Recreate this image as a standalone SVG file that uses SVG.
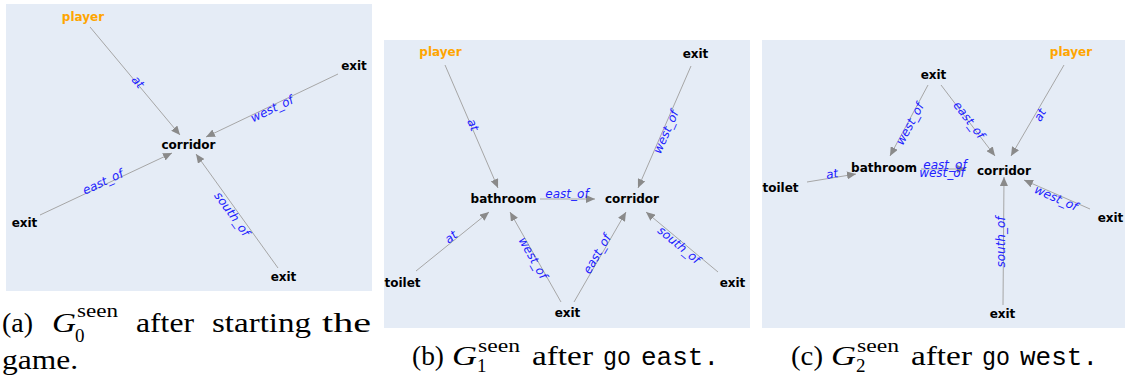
<svg xmlns="http://www.w3.org/2000/svg" width="1125" height="381" viewBox="0 0 1125 381">
<style>
.bg{fill:#E5ECF6}
.n{font-family:"DejaVu Sans",sans-serif;font-weight:bold;font-size:12px;text-anchor:middle;fill:#000}
.p{fill:#FFA500}
.e{stroke:#a6a6a6;stroke-width:1;fill:none;marker-end:url(#ah)}
.l{font-family:"DejaVu Sans",sans-serif;font-style:italic;font-size:12px;fill:#2020ff;text-anchor:middle;dominant-baseline:central}
.c{font-family:"Liberation Serif","DejaVu Serif",serif;font-size:28px;fill:#000}
.g{font-family:"Liberation Serif","DejaVu Serif",serif;font-style:italic;font-size:28px;fill:#000}
.s{font-family:"Liberation Serif","DejaVu Serif",serif;font-size:19px;fill:#000}
.m{font-family:"Liberation Mono",monospace;font-size:25px;fill:#000}
</style>
<defs>
<marker id="ah" markerUnits="userSpaceOnUse" markerWidth="9" markerHeight="8" refX="9" refY="4" orient="auto">
<path d="M0,0 L9,4 L0,8 z" fill="#8a8a8a"/>
</marker>
</defs>
<rect class="bg" x="6" y="4" width="366" height="287"/>
<rect class="bg" x="384" y="40" width="366" height="288"/>
<rect class="bg" x="762" y="40" width="363" height="288"/>
<g id="connectors">
<line class="e" x1="90" y1="27" x2="180" y2="135"/>
<line class="e" x1="338" y1="74" x2="206" y2="137"/>
<line class="e" x1="40" y1="215" x2="172" y2="153"/>
<line class="e" x1="278" y1="268" x2="196" y2="154"/>
<text class="l" x="138" y="82" transform="rotate(50.2 138 82)">at</text>
<text class="l" x="272" y="109" transform="rotate(-25.5 272 109)">west_of</text>
<text class="l" x="103" y="182" transform="rotate(-25.2 103 182)">east_of</text>
<text class="l" x="232" y="214" transform="rotate(54.3 232 214)">south_of</text>
<line class="e" x1="445" y1="65" x2="498" y2="188"/>
<line class="e" x1="691" y1="66" x2="638" y2="188"/>
<line class="e" x1="540" y1="199" x2="595" y2="199"/>
<line class="e" x1="416" y1="271" x2="489" y2="212"/>
<line class="e" x1="561" y1="302" x2="510" y2="212"/>
<line class="e" x1="574" y1="302" x2="626" y2="212"/>
<line class="e" x1="718" y1="272" x2="646" y2="212"/>
<text class="l" x="473" y="125" transform="rotate(66.7 473 125)">at</text>
<text class="l" x="666" y="132" transform="rotate(-66.5 666 132)">west_of</text>
<text class="l" x="567" y="194">east_of</text>
<text class="l" x="451" y="237" transform="rotate(-38.9 451 237)">at</text>
<text class="l" x="533" y="258" transform="rotate(60.5 533 258)">west_of</text>
<text class="l" x="597" y="254" transform="rotate(-60 597 254)">east_of</text>
<text class="l" x="679" y="245" transform="rotate(39.8 679 245)">south_of</text>
<line class="e" x1="928" y1="85" x2="890" y2="156"/>
<line class="e" x1="941" y1="85" x2="995" y2="156"/>
<line class="e" x1="1064" y1="65" x2="1011" y2="156"/>
<line class="e" x1="807" y1="182" x2="856" y2="174"/>
<line class="e" x1="921" y1="169" x2="966" y2="169"/>
<line class="e" x1="1003" y1="305" x2="1004" y2="177"/>
<line class="e" x1="1090" y1="209" x2="1024" y2="180"/>
<text class="l" x="910" y="124" transform="rotate(-61.8 910 124)">west_of</text>
<text class="l" x="969" y="120" transform="rotate(52.7 969 120)">east_of</text>
<text class="l" x="1040" y="115" transform="rotate(-59.8 1040 115)">at</text>
<text class="l" x="832" y="174" transform="rotate(-9.3 832 174)">at</text>
<text class="l" x="945" y="165">east_of</text>
<text class="l" x="942" y="173">west_of</text>
<text class="l" x="1001" y="242" transform="rotate(-90 1001 242)">south_of</text>
<text class="l" x="1056" y="198" transform="rotate(23.7 1056 198)">west_of</text>
</g>
<g id="a-player"><text class="n p" x="83" y="21">player</text></g>
<g id="a-exit-ne"><text class="n" x="354" y="69.5">exit</text></g>
<g id="a-corridor"><text class="n" x="188.5" y="148.5">corridor</text></g>
<g id="a-exit-w"><text class="n" x="24.5" y="226.5">exit</text></g>
<g id="a-exit-s"><text class="n" x="283.5" y="280.5">exit</text></g>
<g id="b-player"><text class="n p" x="440.5" y="56">player</text></g>
<g id="b-exit-n"><text class="n" x="695.5" y="57.5">exit</text></g>
<g id="b-bathroom"><text class="n" x="503.5" y="202.5">bathroom</text></g>
<g id="b-corridor"><text class="n" x="632" y="202.5">corridor</text></g>
<g id="b-toilet"><text class="n" x="402.5" y="286.5">toilet</text></g>
<g id="b-exit-e"><text class="n" x="732.5" y="286.5">exit</text></g>
<g id="b-exit-s"><text class="n" x="567.5" y="316.5">exit</text></g>
<g id="c-exit-n"><text class="n" x="933.5" y="78.5">exit</text></g>
<g id="c-player"><text class="n p" x="1071" y="56">player</text></g>
<g id="c-bathroom"><text class="n" x="884" y="171.5">bathroom</text></g>
<g id="c-corridor"><text class="n" x="1004" y="174.5">corridor</text></g>
<g id="c-toilet"><text class="n" x="780.5" y="191.5">toilet</text></g>
<g id="c-exit-e"><text class="n" x="1110.5" y="221.5">exit</text></g>
<g id="c-exit-s"><text class="n" x="1002.5" y="317.5">exit</text></g>
<g id="captions">
<text class="c" x="2" y="332" textLength="31" lengthAdjust="spacingAndGlyphs">(a)</text>
<text class="g" x="52" y="332" textLength="24" lengthAdjust="spacingAndGlyphs">G</text>
<text class="s" x="75" y="342">0</text>
<text class="s" x="77" y="317" textLength="41" lengthAdjust="spacingAndGlyphs">seen</text>
<text class="c" x="136" y="332" textLength="58" lengthAdjust="spacingAndGlyphs">after</text>
<text class="c" x="212" y="332" textLength="99" lengthAdjust="spacingAndGlyphs">starting</text>
<text class="c" x="322" y="332" textLength="49" lengthAdjust="spacingAndGlyphs">the</text>
<text class="c" x="2" y="369" textLength="76" lengthAdjust="spacingAndGlyphs">game.</text>
<text class="c" x="412" y="365" textLength="32" lengthAdjust="spacingAndGlyphs">(b)</text>
<text class="g" x="452" y="365" textLength="25" lengthAdjust="spacingAndGlyphs">G</text>
<text class="s" x="477" y="372">1</text>
<text class="s" x="478" y="352" textLength="42" lengthAdjust="spacingAndGlyphs">seen</text>
<text class="c" x="532" y="365" textLength="61" lengthAdjust="spacingAndGlyphs">after</text>
<text class="m" x="603" y="365" textLength="28" lengthAdjust="spacingAndGlyphs">go</text>
<text class="m" x="641" y="365" textLength="78" lengthAdjust="spacingAndGlyphs">east.</text>
<text class="c" x="791" y="365" textLength="32" lengthAdjust="spacingAndGlyphs">(c)</text>
<text class="g" x="831" y="365" textLength="25" lengthAdjust="spacingAndGlyphs">G</text>
<text class="s" x="856" y="372">2</text>
<text class="s" x="857" y="352" textLength="42" lengthAdjust="spacingAndGlyphs">seen</text>
<text class="c" x="911" y="365" textLength="61" lengthAdjust="spacingAndGlyphs">after</text>
<text class="m" x="982" y="365" textLength="28" lengthAdjust="spacingAndGlyphs">go</text>
<text class="m" x="1020" y="365" textLength="78" lengthAdjust="spacingAndGlyphs">west.</text>
</g>
</svg>
